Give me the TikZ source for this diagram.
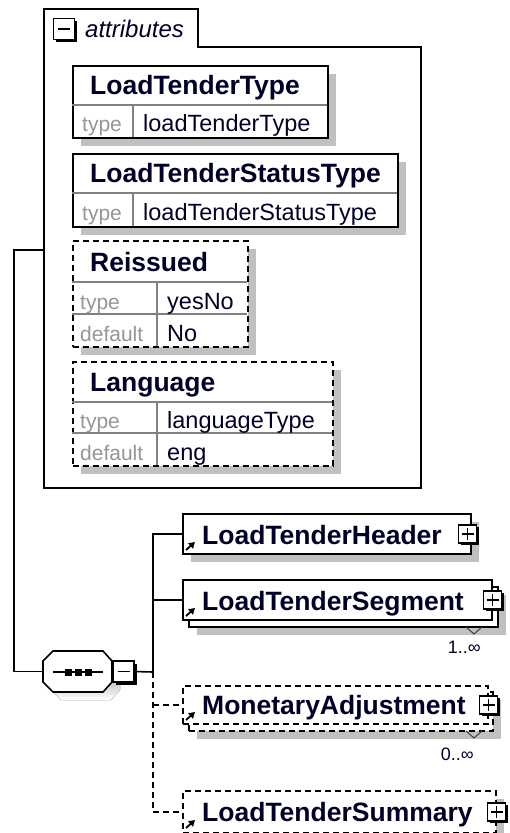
\documentclass[tikz,border=0pt]{standalone}
\usepackage{fontspec}
\setmainfont{Liberation Sans}
\usetikzlibrary{shadows,arrows.meta}
\definecolor{shade}{RGB}{192,192,192}
\definecolor{ink}{RGB}{0,0,40}
\definecolor{lbl}{RGB}{150,150,150}
\definecolor{rule}{RGB}{128,128,128}

\begin{document}
\begin{tikzpicture}[x=1pt,y=-1pt,
  wire/.style={line width=1.6pt},
  frame/.style={draw, line width=1.6pt, fill=white, rectangle, inner sep=0pt, anchor=north west},
  shade box/.style={frame, drop shadow={shadow xshift=8pt,shadow yshift=-8pt,fill=shade,opacity=1}},
  optional/.style={dash pattern=on 6pt off 4pt},
  rowline/.style={draw=rule, line width=1.2pt},
  ename/.style={anchor=base west, inner sep=0pt, text=ink, font=\fontsize{26.5}{30}\selectfont\bfseries},
  akey/.style={anchor=base west, inner sep=0pt, text=lbl, font=\fontsize{21}{25}\selectfont},
  aval/.style={anchor=base west, inner sep=0pt, text=ink, font=\fontsize{23.5}{28}\selectfont},
  occurs/.style={anchor=base east, inner sep=0pt, text=ink, font=\fontsize{18}{22}\selectfont},
  toggle/.style={draw, line width=1.6pt, fill=white, rectangle, minimum size=#1, inner sep=0pt,
    drop shadow={shadow xshift=2.5pt,shadow yshift=-2.5pt,fill=black,opacity=1}},
  minus/.style={toggle=#1, path picture={\draw[line width=1.4pt] ([xshift=-6pt]path picture bounding box.center) -- ([xshift=6pt]path picture bounding box.center);}},
  plus/.style={toggle=#1, path picture={\draw[line width=1.4pt] ([xshift=-6pt]path picture bounding box.center) -- ([xshift=6pt]path picture bounding box.center) ([yshift=-6pt]path picture bounding box.center) -- ([yshift=6pt]path picture bounding box.center);}},
  refarrow/.style={line width=1.8pt, -{Triangle[length=6pt,width=7pt]}},
  chevron/.style={draw=darkgray, line width=1pt}
]
\useasboundingbox (0,0) rectangle (509,833);

\draw[line width=1.6pt] (44,488) -- (44,9) -- (198,9) -- (198,47) -- (421,47) -- (421,488) -- cycle;
\node[minus=21pt] (attrtog) at (64,29) {};
\node[anchor=base west, inner sep=0pt, text=ink, font=\fontsize{24}{28}\selectfont\itshape] (attrlbl) at (85,37) {attributes};
\coordinate (attrin) at (44,250);

\node[shade box, minimum width=255pt, minimum height=72pt] (ltt) at (72,65) {};
\draw[rowline] (72,105) -- (327,105) (133,105) -- (133,137);
\node[ename] (lttname) at (90,94) {LoadTenderType};
\node[akey] (lttkey) at (82,131) {type};
\node[aval] (lttval) at (143,131) {loadTenderType};

\node[shade box, minimum width=325pt, minimum height=73pt] (lts) at (72,153) {};
\draw[rowline] (72,193) -- (397,193) (133,193) -- (133,226);
\node[ename] (ltsname) at (90,182) {LoadTenderStatusType};
\node[akey] (ltskey) at (82,220) {type};
\node[aval] (ltsval) at (143,220) {loadTenderStatusType};

\node[shade box, optional, minimum width=175pt, minimum height=106pt] (reiss) at (72,240) {};
\draw[rowline] (72,282) -- (247,282) (72,314) -- (247,314) (157,282) -- (157,346);
\node[ename] (reissname) at (90,271) {Reissued};
\node[akey] (reisskey) at (80,309) {type};
\node[aval] (reissval) at (167,309) {yesNo};
\node[akey] (reissdefkey) at (80,341) {default};
\node[aval] (reissdef) at (167,341) {No};

\node[shade box, optional, minimum width=260pt, minimum height=104pt] (lang) at (72,361) {};
\draw[rowline] (72,402) -- (332,402) (72,433) -- (332,433) (157,402) -- (157,465);
\node[ename] (langname) at (90,391) {Language};
\node[akey] (langkey) at (80,428) {type};
\node[aval] (langval) at (167,428) {languageType};
\node[akey] (langdefkey) at (80,460) {default};
\node[aval] (langdef) at (167,460) {eng};

\fill[shade] (51,669) -- (61,659) -- (111,659) -- (120,669) -- (120,690) -- (111,700) -- (61,700) -- (51,690) -- cycle;
\draw[line width=1.6pt, fill=white] (43,661) -- (53,651) -- (103,651) -- (112,661) -- (112,682) -- (103,692) -- (53,692) -- (43,682) -- cycle;
\node[inner sep=0pt, minimum width=69pt, minimum height=41pt] (seq) at (77.5,671.5) {};
\draw[line width=1.5pt] (53,672) -- (103,672);
\foreach \d in {68,78,88} \fill (\d-3.5,668.5) rectangle ++(7,7);
\node[minus=21pt, anchor=west] (seqtog) at (seq.east) {};
\coordinate (bus) at (153,672);

\node[shade box, minimum width=288pt, minimum height=40pt] (hdr) at (182,513) {};
\node[ename] (hdrname) at (202,544) {LoadTenderHeader};
\node[plus=18pt] (hdrtog) at ([xshift=-4pt]hdr.east) {};
\draw[refarrow] (186,550) -- (195,542);

\node[shade box, minimum width=309pt, minimum height=40pt] (segback) at (188,586) {};
\node[frame, minimum width=309pt, minimum height=40pt] (seg) at (182,579) {};
\node[ename] (segname) at (202,610) {LoadTenderSegment};
\node[plus=18pt] (segtog) at (seg.east) {};
\draw[refarrow] (186,616) -- (195,608);
\draw[chevron] (466,627) -- (474,634) -- (482,627);
\node[occurs] (segocc) at (481,653) {1..∞};

\node[shade box, optional, minimum width=304pt, minimum height=39pt] (monback) at (188,691) {};
\node[frame, optional, minimum width=305pt, minimum height=38pt] (mon) at (182,685) {};
\node[ename] (monname) at (202,714) {MonetaryAdjustment};
\node[plus=18pt] (montog) at (mon.east) {};
\draw[refarrow] (186,720) -- (195,712);
\draw[chevron] (466,731) -- (474,738) -- (482,731);
\node[occurs] (monocc) at (474,760) {0..∞};

\node[shade box, optional, minimum width=313pt, minimum height=42pt] (sum) at (182,790) {};
\node[ename] (sumname) at (202,821) {LoadTenderSummary};
\node[plus=18pt] (sumtog) at (sum.east) {};
\draw[refarrow] (186,828) -- (195,820);

\draw[wire] (attrin) -- ++(-30,0) |- (seq.west);
\draw[wire] (seqtog.east) -- (bus);
\draw[wire] (bus) |- (hdr.west);
\draw[wire] (bus) |- (seg.west);
\draw[wire, optional] (bus) |- (sum.west);
\draw[wire, optional] (bus |- mon.west) -- (mon.west);
\end{tikzpicture}
\end{document}
